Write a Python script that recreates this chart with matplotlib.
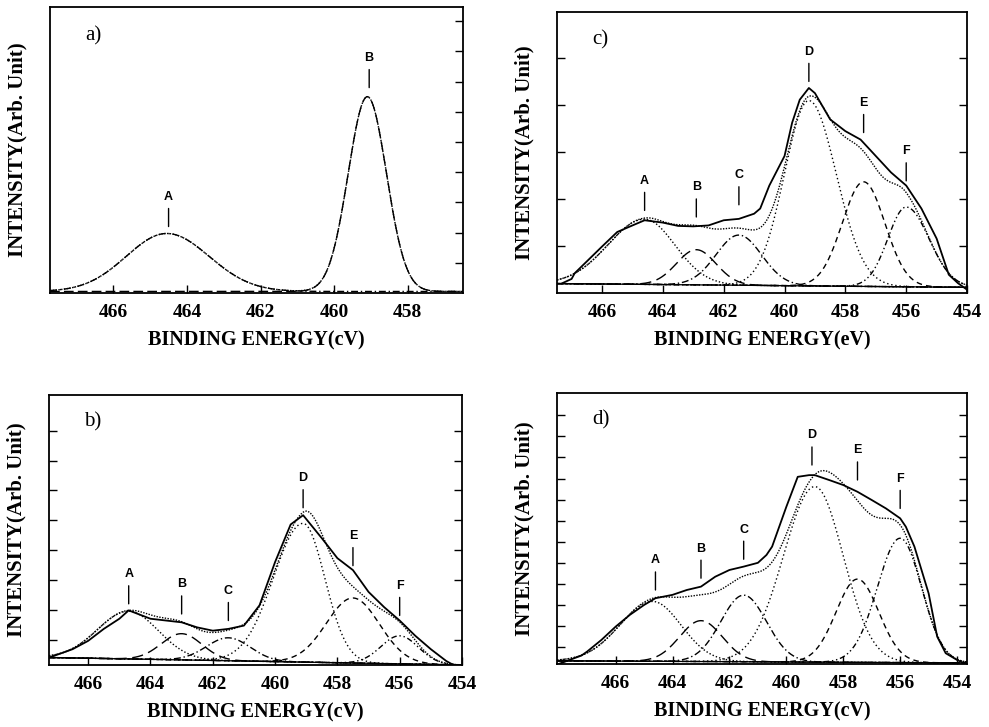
import numpy as np
import matplotlib.pyplot as plt

# ---- panel a) : two components only
a_center = [464.55, 459.1]
a_height = [1.92, 6.45]
a_sig_left = [1.1, 0.52]     # high-energy side width
a_sig_right = [1.15, 0.52]   # low-energy side width
a_base = [0.05, 0.05]
a_letters = ['A', 'B']
a_label_x = [464.5, 459.05]
a_label_y = [2.2, 6.8]

# ---- panel b)
b_center = [464.7, 463.0, 461.5, 459.1, 457.5, 456.0]
b_height = [1.6, 0.88, 0.77, 4.65, 2.18, 0.94]
b_sig_left = [1.0, 0.65, 0.7, 0.95, 0.85, 0.6]
b_sig_right = [0.95, 0.65, 0.7, 0.7, 0.85, 0.6]
b_base = [0.4, 0.15]
b_energy = [467.25, 466.5, 466.0, 465.5, 465.0, 464.7, 464.0, 463.0, 462.5, 462.0,
            461.5, 461.0, 460.5, 460.0, 459.5, 459.1, 458.5, 458.0, 457.5, 457.0,
            456.5, 456.0, 455.5, 455.0, 454.5, 454.2, 454.0]
b_counts = [0.4, 0.68, 0.96, 1.36, 1.7, 1.98, 1.7, 1.58, 1.41, 1.3,
            1.36, 1.47, 2.15, 3.6, 4.86, 5.17, 4.4, 3.73, 3.33, 2.6,
            2.09, 1.64, 1.13, 0.68, 0.28, 0.11, 0.08]
b_letters = ['A', 'B', 'C', 'D', 'E', 'F']
b_label_x = [464.7, 463.0, 461.5, 459.1, 457.5, 456.0]
b_label_y = [2.2, 1.86, 1.64, 5.42, 3.48, 1.81]

# ---- panel c)
c_center = [464.6, 462.9, 461.5, 459.2, 457.4, 456.0]
c_height = [1.39, 0.75, 1.07, 3.95, 2.23, 1.7]
c_sig_left = [1.2, 0.65, 0.75, 0.8, 0.7, 0.6]
c_sig_right = [1.0, 0.65, 0.75, 0.9, 0.7, 0.75]
c_base = [0.2, 0.12]
c_energy = [467.3, 467.0, 466.9, 466.0, 465.5, 465.0, 464.6, 464.0, 463.5, 463.0,
            462.5, 462.0, 461.5, 461.0, 460.8, 460.5, 460.0, 459.75, 459.5, 459.2,
            459.0, 458.5, 458.0, 457.5, 457.0, 456.5, 456.0, 455.5, 455.0, 454.6,
            454.3, 454.0]
c_counts = [0.21, 0.3, 0.42, 0.99, 1.3, 1.44, 1.55, 1.5, 1.43, 1.42,
            1.44, 1.55, 1.58, 1.69, 1.8, 2.29, 2.92, 3.63, 4.12, 4.37,
            4.26, 3.7, 3.45, 3.27, 2.92, 2.57, 2.29, 1.8, 1.16, 0.39,
            0.21, 0.07]
c_letters = ['A', 'B', 'C', 'D', 'E', 'F']
c_label_x = [464.6, 462.9, 461.5, 459.2, 457.4, 456.0]
c_label_y = [1.76, 1.62, 1.88, 4.51, 3.42, 2.39]

# ---- panel d)
d_center = [464.7, 463.0, 461.5, 459.0, 457.5, 456.0]
d_height = [2.84, 1.94, 3.16, 8.33, 3.95, 5.9]
d_sig_left = [1.15, 0.75, 0.8, 1.1, 0.75, 0.8]
d_sig_right = [1.0, 0.75, 0.8, 1.0, 0.75, 0.75]
d_base = [0.35, 0.25]
d_energy = [468.0, 467.2, 467.0, 466.5, 466.0, 465.5, 465.0, 464.6, 464.0, 463.5,
            463.0, 462.5, 462.0, 461.5, 461.0, 460.7, 460.5, 460.0, 459.6, 459.2,
            459.0, 458.5, 458.0, 457.5, 457.0, 456.5, 456.0, 455.8, 455.5, 455.0,
            454.7, 454.4, 454.0, 453.7]
d_counts = [0.2, 0.6, 0.79, 1.34, 1.97, 2.53, 3.0, 3.32, 3.48, 3.71,
            3.87, 4.34, 4.66, 4.82, 5.0, 5.37, 5.77, 7.66, 9.08, 9.16,
            9.16, 8.93, 8.69, 8.37, 7.98, 7.58, 7.11, 6.71, 5.77, 3.55,
            1.5, 0.71, 0.39, 0.2]
d_letters = ['A', 'B', 'C', 'D', 'E', 'F']
d_label_x = [464.6, 463.0, 461.5, 459.1, 457.5, 456.0]
d_label_y = [3.71, 4.27, 5.17, 9.64, 8.93, 7.58]

comp_styles = [(0, (1, 1.5)), (0, (8, 4)), (0, (5, 2, 1, 2)),
               (0, (1, 2)), (0, (4, 3)), (0, (4, 2, 1, 2, 1, 2))]
serif = 'Liberation Serif'


def panel(ax, tag, xlim, ylim, xticks, yticks, center, height, sl, sr, base,
          letters, lx, ly, energy=None, counts=None, styles=None, xlabel='', left_ticks=True):
    x = np.linspace(xlim[0], xlim[1], 800)
    bg = np.interp(x, [xlim[1], xlim[0]], [base[1], base[0]])
    total = bg.copy()
    for i in range(len(center)):
        s = np.where(x > center[i], sl[i], sr[i])
        g = height[i] * np.exp(-(x - center[i]) ** 2 / (2 * s ** 2))
        total += g
        ax.plot(x, bg + g, color='black', lw=1.0, ls=styles[i])
    ax.plot(x, total, color='black', lw=1.0, ls=(0, (1, 1)))
    if energy is not None:
        ax.plot(x, bg, color='black', lw=0.9)
        ax.plot(energy, counts, color='black', lw=1.3)
    for t, xx, yy in zip(letters, lx, ly):
        ax.annotate(t, xy=(xx, yy), xytext=(0, 17), textcoords='offset points',
                    ha='center', va='bottom', fontsize=9, fontweight='bold',
                    family='Liberation Sans',
                    arrowprops=dict(arrowstyle='-', lw=1.0, color='black',
                                    shrinkA=2, shrinkB=0))
    ax.set_xlim(xlim)
    ax.set_ylim(ylim)
    ax.set_xticks(xticks)
    ax.set_xticklabels([str(v) for v in xticks], family=serif, fontsize=14, fontweight='bold')
    ax.set_yticks(yticks)
    ax.set_yticklabels([])
    ax.tick_params(axis='x', direction='in', length=6, width=1.0, pad=8, top=False)
    ax.tick_params(axis='y', direction='in', length=6, width=1.0, right=True, left=left_ticks)
    for sp in ax.spines.values():
        sp.set_linewidth(1.3)
    ax.set_xlabel(xlabel, family=serif, fontsize=14.5, fontweight='bold', labelpad=7)
    ax.set_ylabel('INTENSITY(Arb. Unit)', family=serif, fontsize=15, fontweight='bold')
    ax.yaxis.set_label_coords(-0.055, 0.5)
    ax.text(0.085, 0.9, tag, transform=ax.transAxes, family=serif, fontsize=15,
            ha='left', va='center')


fig = plt.figure(figsize=(9.89, 7.27), dpi=100)
ax_a = fig.add_axes([0.0506, 0.597, 0.4176, 0.393])
ax_c = fig.add_axes([0.5632, 0.597, 0.4146, 0.3865])
ax_b = fig.add_axes([0.0495, 0.0853, 0.4176, 0.3714])
ax_d = fig.add_axes([0.5632, 0.0867, 0.4146, 0.3728])

panel(ax_a, 'a)', (467.72, 456.5), (0, 9.46), [466, 464, 462, 460, 458], range(1, 10),
      a_center, a_height, a_sig_left, a_sig_right, a_base, a_letters, a_label_x, a_label_y,
      styles=[(0, (5, 2, 1, 2)), (0, (7, 3))], xlabel='BINDING ENERGY(cV)', left_ticks=False)
panel(ax_b, 'b)', (467.26, 454.0), (0.15, 9.2), [466, 464, 462, 460, 458, 456, 454], range(1, 9),
      b_center, b_height, b_sig_left, b_sig_right, b_base, b_letters, b_label_x, b_label_y,
      b_energy, b_counts, comp_styles, 'BINDING ENERGY(cV)')
panel(ax_c, 'c)', (467.48, 454.0), (0, 5.99), [466, 464, 462, 460, 458, 456, 454], range(1, 6),
      c_center, c_height, c_sig_left, c_sig_right, c_base, c_letters, c_label_x, c_label_y,
      c_energy, c_counts, comp_styles, 'BINDING ENERGY(eV)')
panel(ax_d, 'd)', (468.06, 453.65), (0.2, 13.06), [466, 464, 462, 460, 458, 456, 454], range(1, 13),
      d_center, d_height, d_sig_left, d_sig_right, d_base, d_letters, d_label_x, d_label_y,
      d_energy, d_counts, comp_styles, 'BINDING ENERGY(cV)')

fig.savefig('out.png', dpi=100)
